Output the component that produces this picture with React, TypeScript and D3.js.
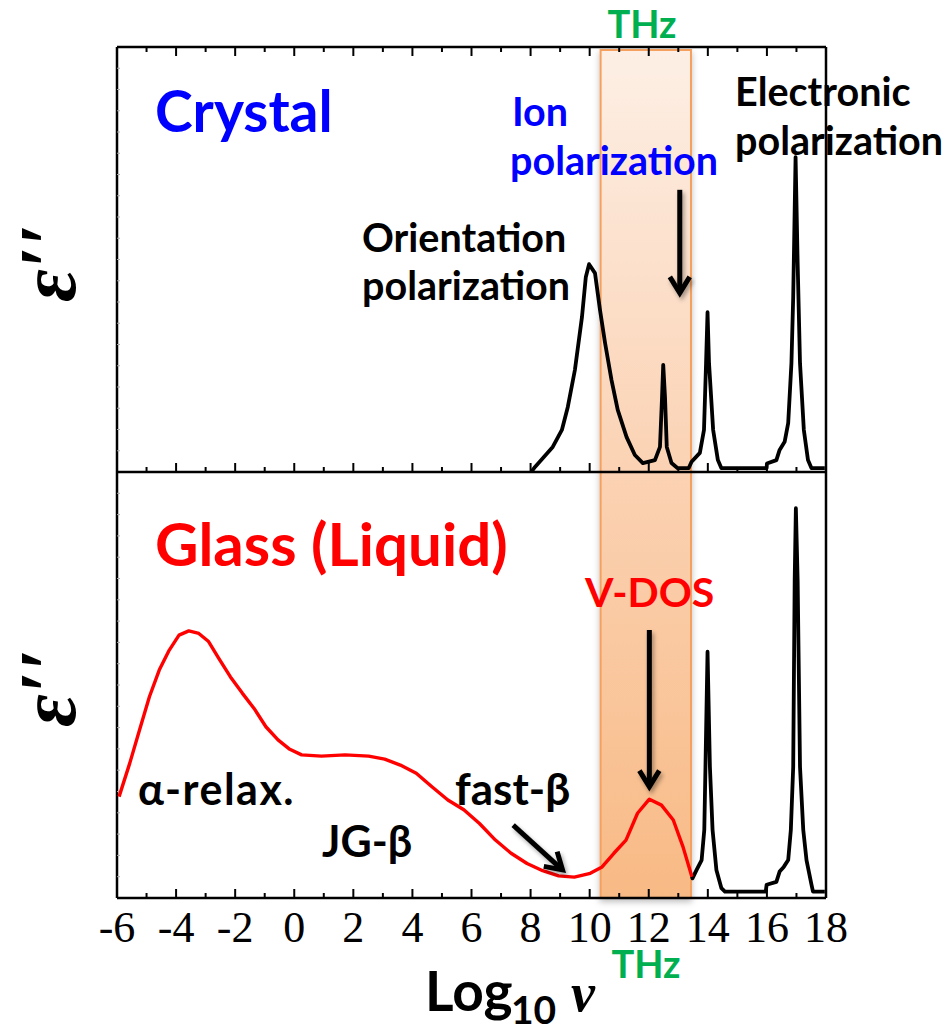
import React from "react";
import * as d3 from "d3";

// Dielectric loss spectra, crystal (top) vs glass/liquid (bottom).
// x: log10 of frequency, y: relative loss (0-100 per panel).

const crystalLogNu = [
  8.03, 8.15, 8.42, 8.75, 9.06, 9.26, 9.5, 9.74, 9.87, 9.98, 10.18, 10.35, 10.52, 10.74, 10.95,
  11.25, 11.53, 11.8, 12.21, 12.38, 12.45, 12.49, 12.55, 12.61, 12.77, 12.98, 13.35, 13.45,
  13.73, 13.87, 13.94, 13.99, 14.04, 14.18, 14.34, 14.46, 15.99, 16.0, 16.32, 16.43, 16.6,
  16.72, 16.83, 16.89, 16.97, 17.04, 17.12, 17.25, 17.39, 17.51, 17.96,
];
const crystalLoss = [
  0.1, 1.2, 3.3, 5.9, 9.9, 15.3, 24.0, 36.5, 45.9, 48.9, 46.8, 38.1, 30.4, 21.6, 14.6,
  8.2, 4.0, 2.1, 2.8, 5.9, 17.6, 25.2, 17.6, 5.9, 2.1, 0.9, 0.9, 2.4,
  4.5, 9.9, 25.6, 37.6, 25.6, 9.9, 2.8, 0.9, 0.9, 2.0, 2.8, 5.2, 7.1,
  11.5, 25.6, 41.2, 74.1, 49.2, 25.6, 9.9, 2.8, 0.9, 0.9,
];

const glassLogNu = [
  -5.93, -5.57, -5.24, -4.9, -4.57, -4.23, -3.9, -3.57, -3.23, -2.9, -2.56, -2.16, -1.76,
  -1.36, -0.96, -0.55, -0.15, 0.25, 0.92, 1.72, 2.52, 3.06, 3.59, 4.13, 4.66, 5.2, 5.74,
  6.27, 6.81, 7.34, 7.88, 8.41, 8.95, 9.48, 10.02, 10.42, 10.82, 11.23, 11.62, 12.02, 12.43,
  12.83, 13.16, 13.46,
];
const glassLoss = [
  23.8, 31.6, 39.4, 47.3, 53.5, 58.2, 61.7, 62.7, 62.1, 60.2, 56.3, 51.9, 48.1,
  44.5, 40.2, 37.1, 34.9, 33.6, 33.3, 33.6, 33.3, 32.6, 31.2, 29.3, 26.1, 23.0, 20.7,
  17.5, 13.6, 10.5, 8.1, 6.4, 5.2, 4.9, 5.8, 7.3, 10.5, 13.6, 19.9, 23.2, 21.8,
  18.3, 12.0, 5.0,
];

const glassHighLogNu = [
  13.46, 13.48, 13.62, 13.79, 13.88, 13.92, 13.99, 14.07, 14.16, 14.29, 14.46, 14.58, 15.96,
  15.99, 16.32, 16.43, 16.57, 16.72, 16.81, 16.89, 16.94, 16.98, 17.04, 17.12, 17.23, 17.34,
  17.51, 17.56, 17.96,
];
const glassHighLoss = [
  5.0, 4.6, 6.6, 8.9, 16.0, 30.8, 57.8, 30.8, 16.0, 6.6, 2.3, 1.5, 1.5,
  3.1, 3.8, 6.2, 7.3, 8.9, 16.0, 30.8, 74.6, 91.5, 74.6, 30.8, 16.0, 8.9,
  3.1, 1.5, 1.5,
];

const xDomain = [-6, 18];
const xTickLabels = [-6, -4, -2, 0, 2, 4, 6, 8, 10, 12, 14, 16, 18];
const xMinorTicks = d3.range(-5, 18, 2);
const thzBand = [10.37, 13.43];

const W = 945;
const H = 1030;
const left = 117;
const right = 826;
const top = 47;
const mid = 472;
const bottom = 898;

const x = d3.scaleLinear().domain(xDomain).range([left, right]);
const yTop = d3.scaleLinear().domain([0, 100]).range([mid, top]);
const yBot = d3.scaleLinear().domain([0, 100]).range([bottom, mid]);

const zip = (xs: number[], ys: number[]) => xs.map((v, i) => [v, ys[i]] as [number, number]);

const lineTop = d3.line<[number, number]>().x((d) => x(d[0])).y((d) => yTop(d[1]));
const lineBot = d3.line<[number, number]>().x((d) => x(d[0])).y((d) => yBot(d[1]));

const SANS = "Lato, 'Open Sans', 'DejaVu Sans', sans-serif";
const SERIF = "'Liberation Serif', 'DejaVu Serif', serif";

function Arrow({ x1, y1, x2, y2 }: { x1: number; y1: number; x2: number; y2: number }) {
  const ang = Math.atan2(y2 - y1, x2 - x1);
  const len = 19;
  const spread = 0.55;
  const a1 = [x2 - len * Math.cos(ang - spread), y2 - len * Math.sin(ang - spread)];
  const a2 = [x2 - len * Math.cos(ang + spread), y2 - len * Math.sin(ang + spread)];
  return (
    <g filter="url(#soft-shadow)" stroke="#000" strokeWidth={5} fill="none">
      <line x1={x1} y1={y1} x2={x2 - 2 * Math.cos(ang)} y2={y2 - 2 * Math.sin(ang)} />
      <polyline
        points={`${a1[0]},${a1[1]} ${x2},${y2} ${a2[0]},${a2[1]}`}
        strokeLinejoin="miter"
        strokeMiterlimit={10}
      />
    </g>
  );
}

export default function App() {
  const faintTicks = d3.range(1, 20).map((i) => top + ((mid - top) * i) / 20);
  const faintTicksBot = d3.range(1, 20).map((i) => mid + ((bottom - mid) * i) / 20);

  return (
    <svg
      width={W}
      height={H}
      viewBox={`0 0 ${W} ${H}`}
      style={{ position: "absolute", left: 0, top: 0, display: "block", background: "#fff" }}
    >
      <defs>
        <linearGradient id="thz-fill" x1="0" y1="0" x2="0" y2="1">
          <stop offset="0" stopColor="#FDEFE5" />
          <stop offset="0.5" stopColor="#FBD2B3" />
          <stop offset="1" stopColor="#F8BA85" />
        </linearGradient>
        <filter id="soft-shadow" x="-30%" y="-30%" width="160%" height="160%">
          <feDropShadow dx="2" dy="3" stdDeviation="2" floodColor="#000" floodOpacity="0.35" />
        </filter>
        <filter id="band-shadow" x="-20%" y="-5%" width="140%" height="110%">
          <feDropShadow dx="0" dy="3" stdDeviation="3" floodColor="#000" floodOpacity="0.25" />
        </filter>
      </defs>

      {/* THz window */}
      <rect
        x={x(thzBand[0])}
        y={top + 3}
        width={x(thzBand[1]) - x(thzBand[0])}
        height={bottom - top - 3}
        fill="url(#thz-fill)"
        stroke="#F5A05E"
        strokeWidth={2}
        filter="url(#band-shadow)"
      />

      {/* frame */}
      <g stroke="#000" strokeWidth={2.5} fill="none">
        <line x1={left} y1={top} x2={right} y2={top} />
        <line x1={left} y1={mid} x2={right} y2={mid} />
        <line x1={left} y1={bottom} x2={right} y2={bottom} />
        <line x1={left} y1={top} x2={left} y2={bottom} />
        <line x1={right} y1={top} x2={right} y2={bottom} />
      </g>

      {/* faint y ticks */}
      <g stroke="#aaa" strokeWidth={1}>
        {faintTicks.concat(faintTicksBot).map((yy, i) => (
          <line key={i} x1={left} x2={left + 3} y1={yy} y2={yy} />
        ))}
      </g>

      {/* x ticks */}
      <g stroke="#000" strokeWidth={2}>
        {xTickLabels.map((t) => (
          <g key={"M" + t}>
            <line x1={x(t)} x2={x(t)} y1={top} y2={top + 9} />
            <line x1={x(t)} x2={x(t)} y1={mid} y2={mid - 9} />
            <line x1={x(t)} x2={x(t)} y1={bottom} y2={bottom - 9} />
          </g>
        ))}
        {xMinorTicks.map((t) => (
          <g key={"m" + t}>
            <line x1={x(t)} x2={x(t)} y1={top} y2={top + 5} />
            <line x1={x(t)} x2={x(t)} y1={mid} y2={mid - 5} />
            <line x1={x(t)} x2={x(t)} y1={bottom} y2={bottom - 5} />
          </g>
        ))}
      </g>

      {/* tick labels */}
      <g fontFamily={SERIF} fontSize={44} textAnchor="middle" fill="#000">
        {xTickLabels.map((t) => (
          <text key={t} x={x(t)} y={942}>
            {t}
          </text>
        ))}
      </g>

      {/* curves */}
      <path
        d={lineTop(zip(crystalLogNu, crystalLoss)) || ""}
        fill="none"
        stroke="#000"
        strokeWidth={3.8}
        strokeLinejoin="round"
      />
      <path
        d={lineBot(zip(glassHighLogNu, glassHighLoss)) || ""}
        fill="none"
        stroke="#000"
        strokeWidth={3.8}
        strokeLinejoin="round"
      />
      <path
        d={lineBot(zip(glassLogNu, glassLoss)) || ""}
        fill="none"
        stroke="#FF0000"
        strokeWidth={3.4}
        strokeLinejoin="round"
      />

      {/* arrows */}
      <Arrow x1={x(13.05)} y1={yTop(66.4)} x2={x(13.05)} y2={yTop(42.1)} />
      <Arrow x1={x(12.02)} y1={yBot(62.9)} x2={x(12.02)} y2={yBot(26.1)} />
      <Arrow x1={x(7.41)} y1={yBot(17.1)} x2={x(9.08)} y2={yBot(6.6)} />

      {/* annotations */}
      <g fontFamily={SANS} fontWeight={700}>
        <text x={642} y={38} fontSize={38} fill="#00B050" textAnchor="middle">THz</text>
        <text x={155} y={132} fontSize={57} fill="#0000FF">Crystal</text>
        <text x={512} y={126} fontSize={39.5} fill="#0000FF">Ion</text>
        <text x={510} y={175} fontSize={39.5} fill="#0000FF">polarization</text>
        <text x={735} y={106} fontSize={39.5} fill="#000">Electronic</text>
        <text x={735} y={155} fontSize={39.5} fill="#000">polarization</text>
        <text x={362} y={252} fontSize={39.5} fill="#000">Orientation</text>
        <text x={362} y={300} fontSize={39.5} fill="#000">polarization</text>
        <text x={155} y={566} fontSize={60} fill="#FF0000">Glass (Liquid)</text>
        <text x={585} y={607} fontSize={41} fill="#FF0000">V-DOS</text>
        <text x={138} y={805} fontSize={43} letterSpacing={1.5} fill="#000">α-relax.</text>
        <text x={322} y={857} fontSize={43} fill="#000">JG-β</text>
        <text x={455} y={805} fontSize={44} fill="#000">fast-β</text>
        <text x={646} y={978} fontSize={38} fill="#00B050" textAnchor="middle">THz</text>
      </g>

      {/* axis titles */}
      <g fill="#000">
        <text x={425} y={1011} fontFamily={SANS} fontWeight={700} fontSize={55}>
          Log
        </text>
        <text x={511} y={1024} fontFamily={SANS} fontWeight={700} fontSize={39}>
          10
        </text>
        <text x={571} y={1011} fontFamily={SERIF} fontStyle="italic" fontWeight={700} fontSize={54}>
          ν
        </text>
      </g>
      {[263, 688].map((cy, i) => (
        <text
          key={i}
          transform={`translate(75, ${cy}) rotate(-90)`}
          textAnchor="middle"
          fontFamily={SERIF}
          fontStyle="italic"
          fontWeight={700}
          fontSize={80}
          fill="#000"
        >
          ε′′
        </text>
      ))}
    </svg>
  );
}
